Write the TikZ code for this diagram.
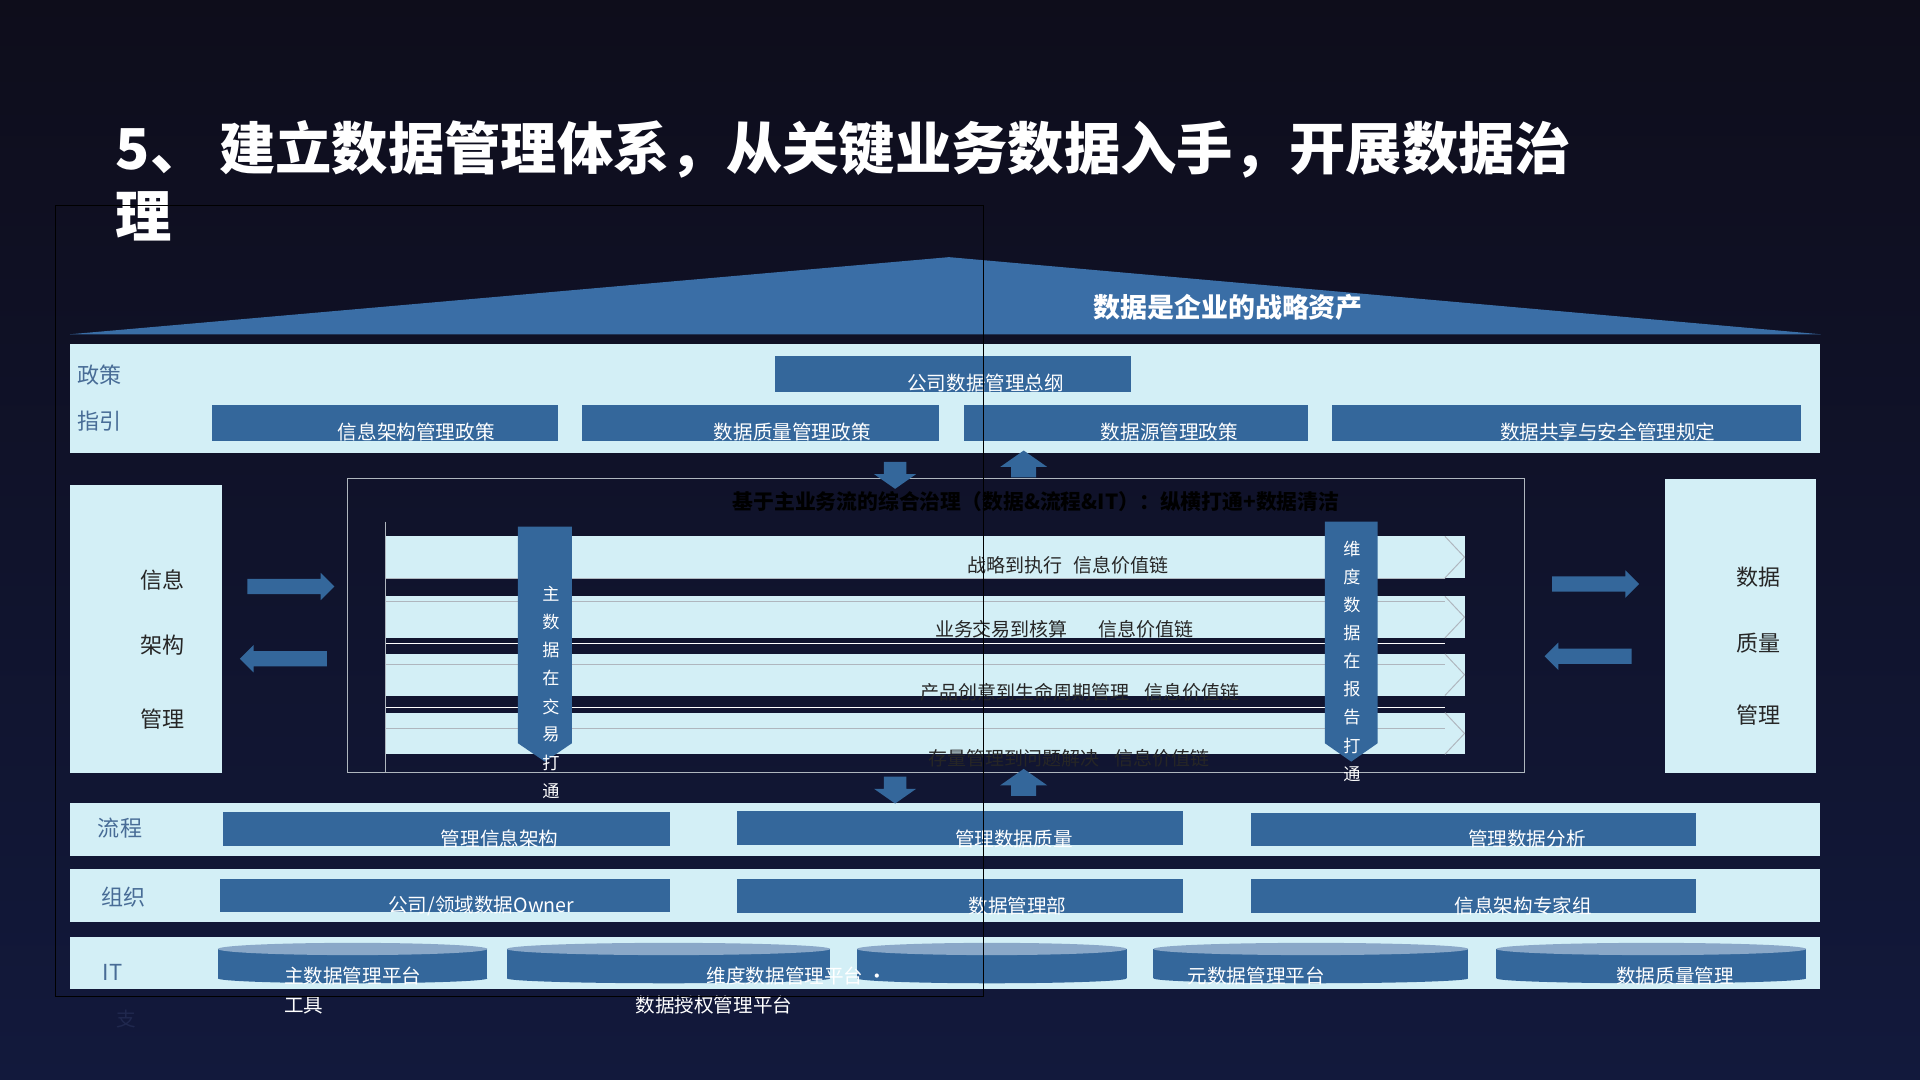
\documentclass[tikz,border=0pt]{standalone}
\usepackage{fontspec}
\setmainfont{Noto Sans CJK SC}
\usetikzlibrary{shapes.arrows}
\definecolor{bgtop}{RGB}{14,13,27}
\definecolor{bgbot}{RGB}{18,25,60}
\definecolor{light}{RGB}{211,239,246}
\definecolor{boxblue}{RGB}{52,103,155}
\definecolor{roofblue}{RGB}{58,110,166}
\definecolor{cyltop}{RGB}{138,168,200}
\definecolor{lblblue}{RGB}{72,108,150}
\definecolor{darktxt}{RGB}{38,38,38}
\definecolor{thinline}{RGB}{175,182,190}
\begin{document}
\begin{tikzpicture}[x=1pt, y=-1pt,
    bar/.style = {fill=boxblue, inner sep=0},
    bartxt/.style = {white, font=\fontsize{16}{16}\selectfont},
    lbl/.style = {color=lblblue, font=\fontsize{18}{18}\selectfont},
    sidetxt/.style = {color=darktxt, font=\fontsize{18}{18}\selectfont},
    flow/.style = {color=darktxt, font=\fontsize{15.5}{15.5}\selectfont},
    vtxt/.style = {white, font=\fontsize{14}{14}\selectfont},
    blk/.style = {single arrow, fill=boxblue, inner xsep=0, inner ysep=6, single arrow head extend=5},
    vblk/.style = {single arrow, fill=boxblue, inner xsep=0, inner ysep=9, single arrow head extend=8, single arrow tip angle=110},
    chev/.style = {draw=thinline, line width=0.8}]
    \useasboundingbox (0,0) rectangle (1568,882);
    \shade[top color=bgtop, bottom color=bgbot] (0,0) rectangle (1568,882);

    % roof
    \fill[roofblue] (57,273) -- (775,210) -- (1487,273) -- cycle;
    \node[white, font=\bfseries\fontsize{22}{22}\selectfont] (roof) at (1003,251) {数据是企业的战略资产};

    % rows
    \fill[light] (57,281) rectangle (1486,370);
    \fill[light] (57,656) rectangle (1486,699);
    \fill[light] (57,710) rectangle (1486,753);
    \fill[light] (57,765) rectangle (1486,808);
    \node[lbl] (zc) at (81,306) {政策};
    \node[lbl] (zy) at (81,344) {指引};
    \node[lbl] (lc) at (98,676) {流程};
    \node[lbl] (zz) at (101,733) {组织};
    \node[lbl] (it) at (92,794) {IT};
    \node[color={rgb,255:red,32;green,40;blue,78}, font=\fontsize{16}{16}\selectfont] (zhi) at (103,832) {支};

    % policy bars
    \node[bar, minimum width=291, minimum height=29] (pol0) at (778.5,305.5) {};
    \node[bar, minimum width=283, minimum height=29] (pol1) at (314.5,345.5) {};
    \node[bar, minimum width=292, minimum height=29] (pol2) at (621,345.5) {};
    \node[bar, minimum width=281, minimum height=29] (pol3) at (927.5,345.5) {};
    \node[bar, minimum width=383, minimum height=29] (pol4) at (1279.5,345.5) {};
    \node[bartxt] at (805,313) {公司数据管理总纲};
    \node[bartxt] at (340,353) {信息架构管理政策};
    \node[bartxt] at (647,353) {数据质量管理政策};
    \node[bartxt] at (955,353) {数据源管理政策};
    \node[bartxt] at (1313,353) {数据共享与安全管理规定};

    % process and organisation bars
    \node[bar, minimum width=365, minimum height=28] (f1) at (364.5,677) {};
    \node[bar, minimum width=364, minimum height=28] (f2) at (784,676) {};
    \node[bar, minimum width=363, minimum height=27] (f3) at (1203.5,677.5) {};
    \node[bar, minimum width=367, minimum height=27] (o1) at (363.5,731.5) {};
    \node[bar, minimum width=364, minimum height=28] (o2) at (784,732) {};
    \node[bar, minimum width=363, minimum height=28] (o3) at (1203.5,732) {};
    \node[bartxt] at (408,685) {管理信息架构};
    \node[bartxt] at (828,685) {管理数据质量};
    \node[bartxt] at (1247,685) {管理数据分析};
    \node[bartxt] at (393,740) {公司/领域数据Owner};
    \node[bartxt] at (831,740) {数据管理部};
    \node[bartxt] at (1244,740) {信息架构专家组};

    % IT platforms
    \foreach \a/\b in {178/398, 414/678, 700/920, 942/1199, 1222/1475} {
        \fill[boxblue] (\a,775) rectangle (\b,799);
        \fill[boxblue] ({(\a+\b)/2},799) ellipse [x radius={(\b-\a)/2}, y radius=4];
        \fill[cyltop] ({(\a+\b)/2},775) ellipse [x radius={(\b-\a)/2}, y radius=5];
    }
    \node[bartxt] at (288,797) {主数据管理平台};
    \node[bartxt] at (248,821) {工具};
    \node[bartxt] at (651,797) {维度数据管理平台 ·};
    \node[bartxt] at (583,821) {数据授权管理平台};
    \node[bartxt] at (1026,797) {元数据管理平台};
    \node[bartxt] at (1368,797) {数据质量管理};

    % governance frame
    \draw[thinline, line width=0.8] (284,391) rectangle (1245,631);
    \node[black, font=\bfseries\fontsize{17}{17}\selectfont] (hdr) at (846,410) {基于主业务流的综合治理（数据\&流程\&IT）：纵横打通+数据清洁};
    \foreach \t in {438,487,534,582} {
        \fill[light] (315,\t) rectangle (1196,\t+34);
        \draw[chev] (1180,\t) -- (1196,\t+17) -- (1180,\t+34);
    }
    \foreach \y in {472.3,490.8,542.5,594.8}
        \draw[thinline, line width=0.6] (315,\y) -- (1180,\y);
    \foreach \y in {525.4,577.6}
        \draw[white, line width=0.6] (315,\y) -- (1180,\y);
    \draw[thinline, line width=0.8] (315,426) -- (315,631);
    \node[flow] (v1) at (872,462) {战略到执行\hspace{0.6em}信息价值链};
    \node[flow] (v2) at (869,514) {业务交易到核算\hspace{1.6em}信息价值链};
    \node[flow] (v3) at (882,565) {产品创意到生命周期管理\hspace{0.8em}信息价值链};
    \node[flow] (v4) at (873,619) {存量管理到问题解决\hspace{0.8em}信息价值链};

    % vertical banners
    \fill[boxblue] (423,430) -- (467,430) -- (467,607) -- (445,622) -- (423,607) -- cycle;
    \fill[boxblue] (1082,426) -- (1125,426) -- (1125,607) -- (1103.5,622) -- (1082,607) -- cycle;
    \foreach \c [count=\i from 0] in {主,数,据,在,交,易,打,通}
        \node[vtxt] at (450,485+23*\i) {\c};
    \foreach \c [count=\i from 0] in {维,度,数,据,在,报,告,打,通}
        \node[vtxt] at (1104,448+23*\i) {\c};

    % side boxes
    \node[fill=light, minimum width=124, minimum height=235, inner sep=0] (xx) at (119,513.5) {};
    \node[fill=light, minimum width=123, minimum height=240, inner sep=0] (zl) at (1421.5,511) {};
    \node[sidetxt] at (133,474) {信息};
    \node[sidetxt] at (133,527) {架构};
    \node[sidetxt] at (133,587) {管理};
    \node[sidetxt] at (1436,471) {数据};
    \node[sidetxt] at (1436,525) {质量};
    \node[sidetxt] at (1436,584) {管理};

    % block arrows
    \node[blk, minimum height=71] (a1) at (234.5,479) {};
    \node[blk, minimum height=71, rotate=180] (a2) at (234.5,538) {};
    \node[blk, minimum height=71] (a3) at (1300,477) {};
    \node[blk, minimum height=71, rotate=180] (a4) at (1300,536) {};
    \node[vblk, minimum height=22, rotate=-90] (d1) at (731,385) {};
    \node[vblk, minimum height=22, inner ysep=10, single arrow head extend=9, rotate=90] (u1) at (836,382.5) {};
    \node[vblk, minimum height=22, rotate=-90] (d2) at (731,642) {};
    \node[vblk, minimum height=22, inner ysep=10, single arrow head extend=9, rotate=90] (u2) at (836,642.5) {};

    % title
    \node[anchor=west, white, font=\bfseries\fontsize{46}{46}\selectfont] (title) at (91,122) {5、 建立数据管理体系，从关键业务数据入手，开展数据治};
    \node[anchor=west, white, font=\bfseries\fontsize{46}{46}\selectfont] (title2) at (91,177) {理};

    \draw[black, line width=0.8] (45,168) rectangle (803,814);
\end{tikzpicture}
\end{document}
